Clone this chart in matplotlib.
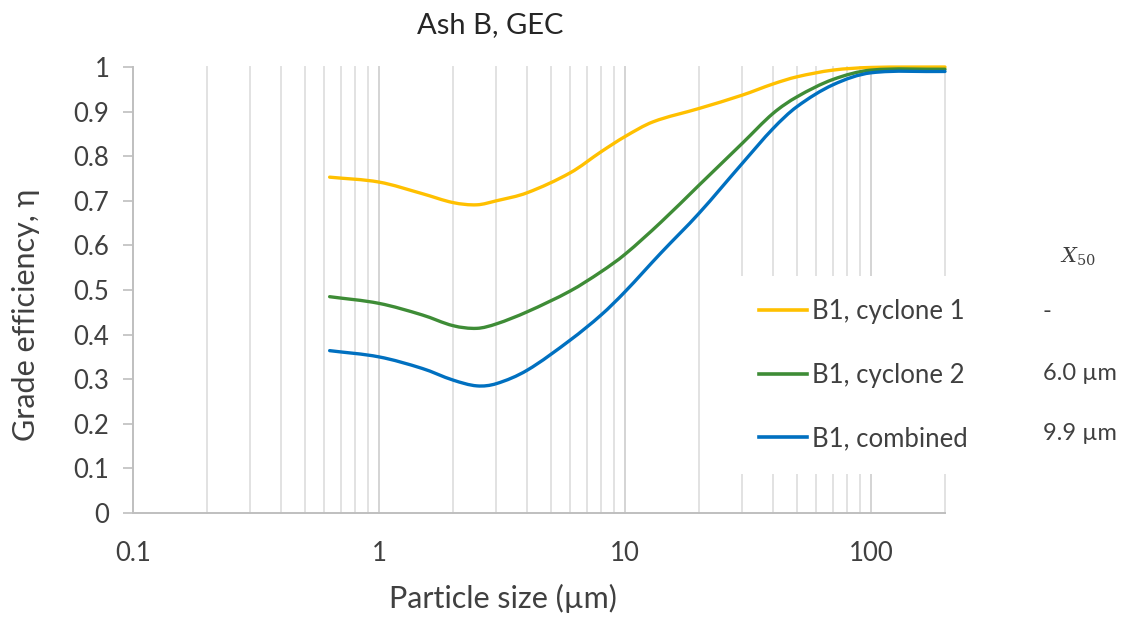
import numpy as np
import matplotlib
matplotlib.use("Agg")
import matplotlib.pyplot as plt
from matplotlib.path import Path
from matplotlib.patches import PathPatch
from matplotlib.lines import Line2D
from matplotlib.ticker import FixedLocator, NullFormatter

plt.rcParams['font.family'] = ['Lato', 'DejaVu Sans']

# Données lues : taille de particule (µm) et efficacité de classe
taille_cyclone1 = [0.63, 1.0, 1.5, 2.0, 2.5, 3.0, 4.0, 6.0, 8.0, 10, 13, 20, 30, 40, 50, 70, 100, 200]
eff_cyclone1 = [0.753, 0.742, 0.716, 0.696, 0.691, 0.70, 0.718, 0.763, 0.81, 0.844, 0.877, 0.907, 0.937,
                0.962, 0.978, 0.993, 0.999, 1.0]

taille_cyclone2 = [0.63, 1.0, 1.5, 2.0, 2.5, 3.0, 4.0, 6.0, 8.0, 10, 14, 20, 30, 40, 50, 70, 100, 200]
eff_cyclone2 = [0.485, 0.47, 0.444, 0.42, 0.414, 0.424, 0.451, 0.498, 0.541, 0.58, 0.652, 0.735, 0.829,
                0.896, 0.933, 0.972, 0.993, 0.995]

taille_combine = [0.63, 1.0, 1.5, 2.0, 2.5, 3.0, 4.0, 6.0, 8.0, 10, 14, 20, 30, 40, 50, 70, 100, 200]
eff_combine = [0.364, 0.35, 0.324, 0.298, 0.285, 0.29, 0.32, 0.388, 0.444, 0.496, 0.583, 0.672, 0.784,
               0.862, 0.911, 0.96, 0.987, 0.99]

noms_series = ['B1, cyclone 1', 'B1, cyclone 2', 'B1, combined']
valeurs_x50 = ['-', '6.0 µm', '9.9 µm']
couleurs = ['#FFC000', '#3E8C36', '#0070C0']

ticks_y = [0, 0.1, 0.2, 0.3, 0.4, 0.5, 0.6, 0.7, 0.8, 0.9, 1]
labels_y = ['0', '0.1', '0.2', '0.3', '0.4', '0.5', '0.6', '0.7', '0.8', '0.9', '1']
ticks_x = [0.1, 1, 10, 100]
labels_x = ['0.1', '1', '10', '100']


def courbe_lissee(x, y):
    # Chemin de Bézier (Hermite cubique en log(x)) passant par les points
    lx = np.log10(x)
    y = np.asarray(y, dtype=float)
    n = len(lx)
    pentes = np.empty(n)
    pentes[0] = (y[1] - y[0]) / (lx[1] - lx[0])
    pentes[-1] = (y[-1] - y[-2]) / (lx[-1] - lx[-2])
    for i in range(1, n - 1):
        pentes[i] = (y[i + 1] - y[i - 1]) / (lx[i + 1] - lx[i - 1])
    sommets = [(x[0], y[0])]
    codes = [Path.MOVETO]
    for i in range(n - 1):
        h = (lx[i + 1] - lx[i]) / 3
        sommets += [(10 ** (lx[i] + h), y[i] + pentes[i] * h),
                    (10 ** (lx[i + 1] - h), y[i + 1] - pentes[i + 1] * h),
                    (x[i + 1], y[i + 1])]
        codes += [Path.CURVE4] * 3
    return Path(sommets, codes)


fig = plt.figure(figsize=(11.32, 6.17), dpi=100)
ax = fig.add_axes([0.1175, 0.1686, 0.7173, 0.7228])

ax.set_xscale('log')
ax.set_xlim(0.1, 200)
ax.set_ylim(0, 1)

# Grille verticale (majeure + mineure)
mineurs = [m * 10.0 ** e for e in range(-1, 3) for m in range(2, 10) if m * 10.0 ** e <= 200]
for v in mineurs:
    ax.axvline(v, color='#E2E2E2', lw=1.4, zorder=0, clip_on=False)
for v in [1, 10, 100]:
    ax.axvline(v, color='#D4D4D4', lw=1.4, zorder=0, clip_on=False)

series = [(taille_cyclone1, eff_cyclone1), (taille_cyclone2, eff_cyclone2), (taille_combine, eff_combine)]
poignees = []
for (tx, ty), nom, c in zip(series, noms_series, couleurs):
    patch = PathPatch(courbe_lissee(tx, ty), facecolor='none', edgecolor=c, lw=2.4,
                      capstyle='round', zorder=3, clip_on=False)
    ax.add_patch(patch)
    poignees.append(Line2D([], [], color=c, lw=2.6, label=nom))

ax.xaxis.set_major_locator(FixedLocator(ticks_x))
ax.set_xticklabels(labels_x)
ax.xaxis.set_minor_formatter(NullFormatter())
ax.tick_params(axis='x', which='both', length=0, pad=20, labelsize=18.5, labelcolor='#404040')
ax.set_yticks(ticks_y)
ax.set_yticklabels(labels_y)
ax.tick_params(axis='y', length=7, width=1.2, color='#BFBFBF', pad=10, labelsize=18.5, labelcolor='#404040')

for cote in ['top', 'right']:
    ax.spines[cote].set_visible(False)
for cote in ['left', 'bottom']:
    ax.spines[cote].set_color('#BFBFBF')
    ax.spines[cote].set_linewidth(1.4)

fig.text(503 / 1132, 1 - 598 / 617, 'Particle size (µm)', ha='center', va='center', fontsize=22, color='#404040')
fig.text(26 / 1132, 1 - 315 / 617, 'Grade efficiency, η', ha='center', va='center', rotation=90,
         fontsize=22, color='#404040')
fig.text(490 / 1132, 1 - 25 / 617, 'Ash B, GEC', ha='center', va='center', fontsize=21, color='#262626')

# Légende avec fond blanc qui masque la grille
leg = fig.legend(handles=poignees, loc='upper left', bbox_to_anchor=(723 / 1132, 1 - 263 / 617), fontsize=18.5,
                 frameon=True, facecolor='white', edgecolor='none', framealpha=1, fancybox=False,
                 handlelength=1.87, handletextpad=0.2, labelspacing=1.5, borderpad=0.9)
for t in leg.get_texts():
    t.set_color('#404040')

fig.text(1060 / 1132, 1 - 257 / 617, r'$X_{50}$', ha='left', va='center', fontsize=15, color='#404040',
         math_fontfamily='dejavuserif')
lignes_y = [312, 373, 434]
for val, yy in zip(valeurs_x50, lignes_y):
    fig.text(1043 / 1132, 1 - yy / 617, val, ha='left', va='center', fontsize=17, color='#404040')

fig.savefig('out.png', dpi=100)
